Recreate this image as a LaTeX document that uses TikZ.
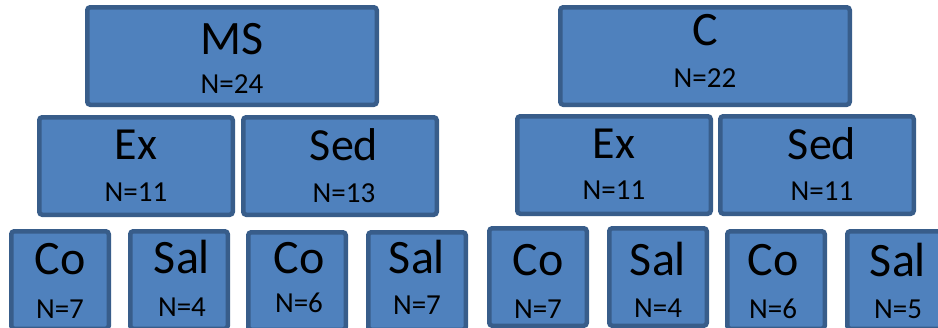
\documentclass[tikz,border=0pt]{standalone}
\usepackage{fontspec}
\setmainfont{Carlito}
\definecolor{boxfill}{HTML}{4F81BD}
\definecolor{boxline}{HTML}{385D8A}

\begin{document}
\begin{tikzpicture}[x=1pt, y=-1pt,
    box/.style={draw=boxline, line width=4.5pt, rounded corners=3pt, fill=boxfill, inner sep=0pt, minimum height=97.5pt},
    wide/.style={box, minimum width=289.5pt},
    mid/.style={box, minimum width=193.5pt},
    small/.style={box, minimum width=97.5pt},
    title/.style={anchor=base, inner sep=0pt, font=\fontsize{48}{48}\selectfont},
    count/.style={anchor=base, inner sep=0pt, font=\fontsize{29}{29}\selectfont}]
    \useasboundingbox (0,0) rectangle (938,327);
    \clip (0,0) rectangle (938,327);

    % Top row - MS and C
    \node[wide] at (232,56) (ms) {};
    \node[title] at ([yshift=-49pt]ms.north) (msname) {MS};
    \node[count] at ([yshift=-88pt]ms.north) (msn) {N=24};

    \node[wide] at (705,56) (c) {};
    \node[title] at ([yshift=-40pt]c.north) (cname) {C};
    \node[count] at ([yshift=-82pt]c.north) (cn) {N=22};

    % Middle row - Ex and Sed
    \node[mid] at (136,166) (msex) {};
    \node[title, font=\fontsize{46}{46}\selectfont] at ([yshift=-44.5pt]msex.north) (msexname) {Ex};
    \node[count] at ([yshift=-86.5pt]msex.north) (msexn) {N=11};

    \node[mid] at (340,166) (mssed) {};
    \node[title, font=\fontsize{46}{46}\selectfont] at ([xshift=4pt, yshift=-45pt]mssed.north) (mssedname) {Sed};
    \node[count] at ([xshift=4pt, yshift=-87pt]mssed.north) (mssedn) {N=13};

    \node[mid] at (614,165) (cex) {};
    \node[title, font=\fontsize{46}{46}\selectfont] at ([yshift=-44.5pt]cex.north) (cexname) {Ex};
    \node[count] at ([yshift=-85.5pt]cex.north) (cexn) {N=11};

    \node[mid] at (817,165) (csed) {};
    \node[title, font=\fontsize{46}{46}\selectfont] at ([xshift=5pt, yshift=-45.5pt]csed.north) (csedname) {Sed};
    \node[count] at ([xshift=5pt, yshift=-86pt]csed.north) (csedn) {N=11};

    % Bottom row - Co and Sal
    \node[small] at (60,280) (msexco) {};
    \node[title] at ([yshift=-45pt]msexco.north) (msexconame) {Co};
    \node[count] at ([yshift=-89pt]msexco.north) (msexcon) {N=7};

    \node[small] at (179,280) (msexsal) {};
    \node[title] at ([xshift=3pt, yshift=-44.5pt]msexsal.north) (msexsalname) {Sal};
    \node[count] at ([xshift=3pt, yshift=-87pt]msexsal.north) (msexsaln) {N=4};

    \node[small] at (297,281) (mssedco) {};
    \node[title] at ([xshift=2pt, yshift=-43pt]mssedco.north) (mssedconame) {Co};
    \node[count] at ([xshift=2pt, yshift=-82pt]mssedco.north) (mssedcon) {N=6};

    \node[small] at (417,281) (mssedsal) {};
    \node[title] at ([yshift=-43.5pt]mssedsal.north) (mssedsalname) {Sal};
    \node[count] at ([yshift=-84pt]mssedsal.north) (mssedsaln) {N=7};

    \node[small] at (538,277) (cexco) {};
    \node[title] at ([yshift=-49pt]cexco.north) (cexconame) {Co};
    \node[count] at ([yshift=-92pt]cexco.north) (cexcon) {N=7};

    \node[small] at (658,277) (cexsal) {};
    \node[title] at ([yshift=-49pt]cexsal.north) (cexsalname) {Sal};
    \node[count] at ([yshift=-91pt]cexsal.north) (cexsaln) {N=4};

    \node[small] at (776,280) (csedco) {};
    \node[title] at ([xshift=-3pt, yshift=-46.5pt]csedco.north) (csedconame) {Co};
    \node[count] at ([xshift=-3pt, yshift=-89.5pt]csedco.north) (csedcon) {N=6};

    \node[small] at (896,280) (csedsal) {};
    \node[title] at ([xshift=2pt, yshift=-47pt]csedsal.north) (csedsalname) {Sal};
    \node[count] at ([xshift=2pt, yshift=-89pt]csedsal.north) (csedsaln) {N=5};
\end{tikzpicture}
\end{document}
